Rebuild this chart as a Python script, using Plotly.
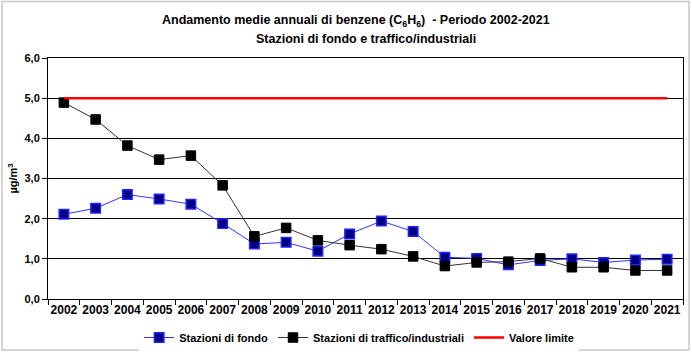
import plotly.graph_objects as go

years = [str(y) for y in range(2002, 2022)]
fondo = [2.11, 2.26, 2.60, 2.49, 2.36, 1.88, 1.37, 1.41, 1.19, 1.62,
         1.94, 1.68, 1.04, 1.01, 0.85, 0.96, 1.00, 0.91, 0.97, 0.99]
traffico = [4.89, 4.47, 3.82, 3.47, 3.57, 2.83, 1.56, 1.77, 1.46, 1.34,
            1.24, 1.06, 0.82, 0.91, 0.93, 1.01, 0.79, 0.79, 0.71, 0.71]
limite = [5.0] * 20

title1 = "Andamento medie annuali di benzene (C<sub>6</sub>H<sub>6</sub>)  - Periodo 2002-2021"
title2 = "Stazioni di fondo e traffico/industriali"

FONT = "Liberation Sans, Arial, sans-serif"

fig = go.Figure()
fig.add_trace(go.Scatter(
    x=years, y=fondo, name="<b>Stazioni di fondo</b>", mode="lines+markers",
    line=dict(color="#3333FF", width=1),
    marker=dict(symbol="square", size=9.5, color="#000080",
                line=dict(color="#2222FF", width=1.5))))
fig.add_trace(go.Scatter(
    x=years, y=traffico, name="<b>Stazioni di traffico/industriali</b>", mode="lines+markers",
    line=dict(color="#333333", width=1),
    marker=dict(symbol="square", size=9.5, color="#000000",
                line=dict(color="#000000", width=1))))
fig.add_trace(go.Scatter(
    x=years, y=limite, name="<b>Valore limite</b>", mode="lines",
    line=dict(color="#FF0000", width=2.5)))

L, R, T, B = 48, 9, 58, 55
W, H = 692, 354
pw, ph = W - L - R, H - T - B

def px(x):
    return (x - L) / pw

def py(y):
    return (H - B - y) / ph

fig.add_shape(type="rect", xref="paper", yref="paper",
              x0=px(2), x1=px(689), y0=py(350), y1=py(1.5),
              line=dict(color="#C8C8C8", width=1.5), fillcolor="rgba(0,0,0,0)")

fig.add_annotation(text="<b>" + title1 + "</b>", xref="paper", yref="paper",
                   x=px(356), y=py(21), xanchor="center", yanchor="middle",
                   showarrow=False, font=dict(family=FONT, size=12.5, color="#000000"))
fig.add_annotation(text="<b>" + title2 + "</b>", xref="paper", yref="paper",
                   x=px(365.5), y=py(39), xanchor="center", yanchor="middle",
                   showarrow=False, font=dict(family=FONT, size=12.5, color="#000000"))

fig.update_layout(
    width=W, height=H,
    margin=dict(l=L, r=R, t=T, b=B, autoexpand=False),
    paper_bgcolor="white", plot_bgcolor="white",
    font=dict(family=FONT, size=11, color="#000000"),
    separators=",.",
    showlegend=True,
    legend=dict(orientation="h", x=0.49, xanchor="center", y=py(323), yanchor="top",
                font=dict(family=FONT, size=11, color="#000000"),
                itemwidth=30, tracegroupgap=0),
    xaxis=dict(type="category", range=[-0.5, 19.5], showgrid=False, automargin=False,
               showline=True, linecolor="black", linewidth=1, mirror=True,
               ticks="outside", tickson="boundaries", ticklen=5, tickcolor="black",
               tickangle=0,
               tickfont=dict(family=FONT, size=12, color="#000000"),
               tickprefix="<b>", ticksuffix="</b>"),
    yaxis=dict(range=[0, 6], dtick=1, tickformat=".1f", automargin=False,
               showgrid=True, gridcolor="black", gridwidth=1,
               showline=True, linecolor="black", linewidth=1, mirror=True,
               ticks="outside", ticklen=5, tickcolor="black", zeroline=False,
               tickfont=dict(family=FONT, size=11, color="#000000"),
               tickprefix="<b>", ticksuffix="</b>",
               title=dict(text="<b>µg/m<sup>3</sup></b>", standoff=4,
                          font=dict(family=FONT, size=11, color="#000000"))),
)

fig.write_html("out.html")
